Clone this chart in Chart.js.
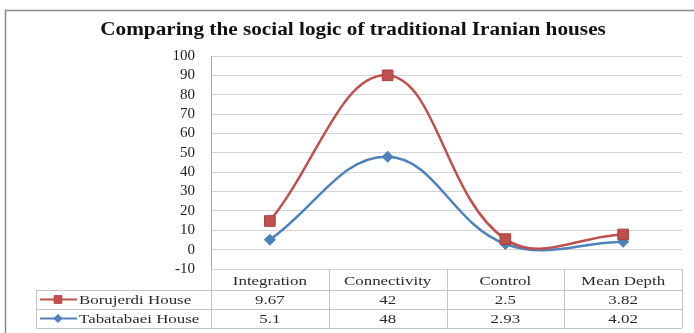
<!DOCTYPE html>
<html><head><meta charset="utf-8">
<script src="https://cdn.jsdelivr.net/npm/chart.js@4/dist/chart.umd.min.js"></script>
<style>html,body{margin:0;padding:0;background:#fff}</style>
</head><body>
<canvas id="c" width="694" height="333"></canvas>
<script>
// ---- data ----
const chartTitle = 'Comparing the social logic of traditional Iranian houses';
const categories = ['Integration', 'Connectivity', 'Control', 'Mean Depth'];
const seriesNames = ['Borujerdi House', 'Tabatabaei House'];
const borujerdi = [9.67, 42, 2.5, 3.82];
const tabatabaei = [5.1, 48, 2.93, 4.02];
const yMin = -10, yMax = 100, yStep = 10;

const RED = '#C0504D', BLUE = '#4F81BD';
const SERIF = '"Liberation Serif", "Times New Roman", serif';

// Stacked line: Borujerdi is drawn on top of Tabatabaei
const borujerdiStacked = borujerdi.map((v, i) => v + tabatabaei[i]);

function stretchedText(ctx, txt, x, y, align, k) {
  ctx.save();
  ctx.translate(x, y);
  ctx.scale(k, 1);
  ctx.textAlign = align;
  ctx.textBaseline = 'middle';
  ctx.fillText(txt, 0, 0);
  ctx.restore();
}

const framePlugin = {
  id: 'frame',
  beforeDraw(chart) {
    const ctx = chart.ctx;
    ctx.save();
    ctx.fillStyle = '#fff';
    ctx.fillRect(0, 0, chart.width, chart.height);
    ctx.strokeStyle = '#8a8a8a';
    ctx.lineWidth = 1.5;
    ctx.strokeRect(5.5, 10.5, 800, 400);
    // title
    ctx.fillStyle = '#111';
    ctx.font = 'bold 18px ' + SERIF;
    stretchedText(ctx, chartTitle, 353, 30, 'center', 1.18);
    ctx.restore();
  }
};

const tablePlugin = {
  id: 'dataTable',
  afterDraw(chart) {
    const ctx = chart.ctx;
    const xs = chart.scales.x;
    const area = chart.chartArea;
    const n = categories.length;
    const colW = (area.right - area.left) / n;
    const top = area.bottom;
    const r1 = top + 21, r2 = r1 + 19, r3 = r2 + 19;
    const legLeft = 36;
    const K = 1.3;
    ctx.save();
    ctx.strokeStyle = '#c4c4c4';
    ctx.lineWidth = 1;
    ctx.beginPath();
    for (let i = 0; i <= n; i++) {
      const x = Math.round(area.left + i * colW) + 0.5;
      ctx.moveTo(x, top); ctx.lineTo(x, r3);
    }
    ctx.moveTo(legLeft + 0.5, r1); ctx.lineTo(legLeft + 0.5, r3);
    [r1, r2, r3].forEach(y => { ctx.moveTo(legLeft, y + 0.5); ctx.lineTo(area.right, y + 0.5); });
    ctx.stroke();

    ctx.fillStyle = '#2a2a2a';
    ctx.font = '13px ' + SERIF;
    categories.forEach((c, i) => {
      const cx = xs.getPixelForValue(i);
      stretchedText(ctx, c, cx, (top + r1) / 2 + 2, 'center', K);
      stretchedText(ctx, String(borujerdi[i]), cx, (r1 + r2) / 2 + 1, 'center', K);
      stretchedText(ctx, String(tabatabaei[i]), cx, (r2 + r3) / 2 + 1, 'center', K);
    });

    // legend keys
    const rows = [
      {name: seriesNames[0], color: RED, style: 'rect', y: (r1 + r2) / 2},
      {name: seriesNames[1], color: BLUE, style: 'rectRot', y: (r2 + r3) / 2}
    ];
    rows.forEach(r => {
      ctx.strokeStyle = r.color;
      ctx.lineWidth = 2;
      ctx.beginPath();
      ctx.moveTo(40, r.y); ctx.lineTo(77, r.y);
      ctx.stroke();
      ctx.fillStyle = r.color;
      ctx.lineWidth = 1;
      Chart.helpers.drawPoint(ctx, {pointStyle: r.style, radius: r.style === 'rect' ? 5.5 : 4, rotation: 0, borderWidth: 1}, 58, r.y);
      ctx.fill();
      ctx.fillStyle = '#2a2a2a';
      ctx.font = '13px ' + SERIF;
      stretchedText(ctx, r.name, 79, r.y + 1, 'left', K);
    });
    ctx.restore();
  }
};

new Chart(document.getElementById('c'), {
  type: 'line',
  data: {
    labels: categories,
    datasets: [
      {
        label: seriesNames[0],
        data: borujerdiStacked,
        borderColor: RED, backgroundColor: RED,
        pointStyle: 'rect', pointRadius: 7.5, pointBorderColor: '#a33f3c', pointBorderWidth: 1,
        borderWidth: 2.5, tension: 0.4, fill: false, order: 0
      },
      {
        label: seriesNames[1],
        data: tabatabaei,
        borderColor: BLUE, backgroundColor: BLUE,
        pointStyle: 'rectRot', pointRadius: 5.5, pointBorderColor: BLUE, pointBorderWidth: 1,
        borderWidth: 2.5, tension: 0.4, fill: false, order: 1
      }
    ]
  },
  options: {
    responsive: false,
    animation: false,
    layout: { padding: { left: 0, right: 12, top: 56, bottom: 64 } },
    plugins: {
      legend: { display: false },
      tooltip: { enabled: false },
      title: { display: false }
    },
    scales: {
      x: {
        display: false, offset: true
      },
      y: {
        min: yMin, max: yMax,
        afterFit(s) { s.width = 211; },
        ticks: { stepSize: yStep, autoSkip: false, padding: 16, color: '#222', font: { family: SERIF, size: 15 } },
        grid: { color: '#d4d4d4', lineWidth: 1, drawTicks: false },
        border: { display: true, color: '#a8a8a8', width: 1 }
      }
    }
  },
  plugins: [framePlugin, tablePlugin]
});
</script>
</body></html>
